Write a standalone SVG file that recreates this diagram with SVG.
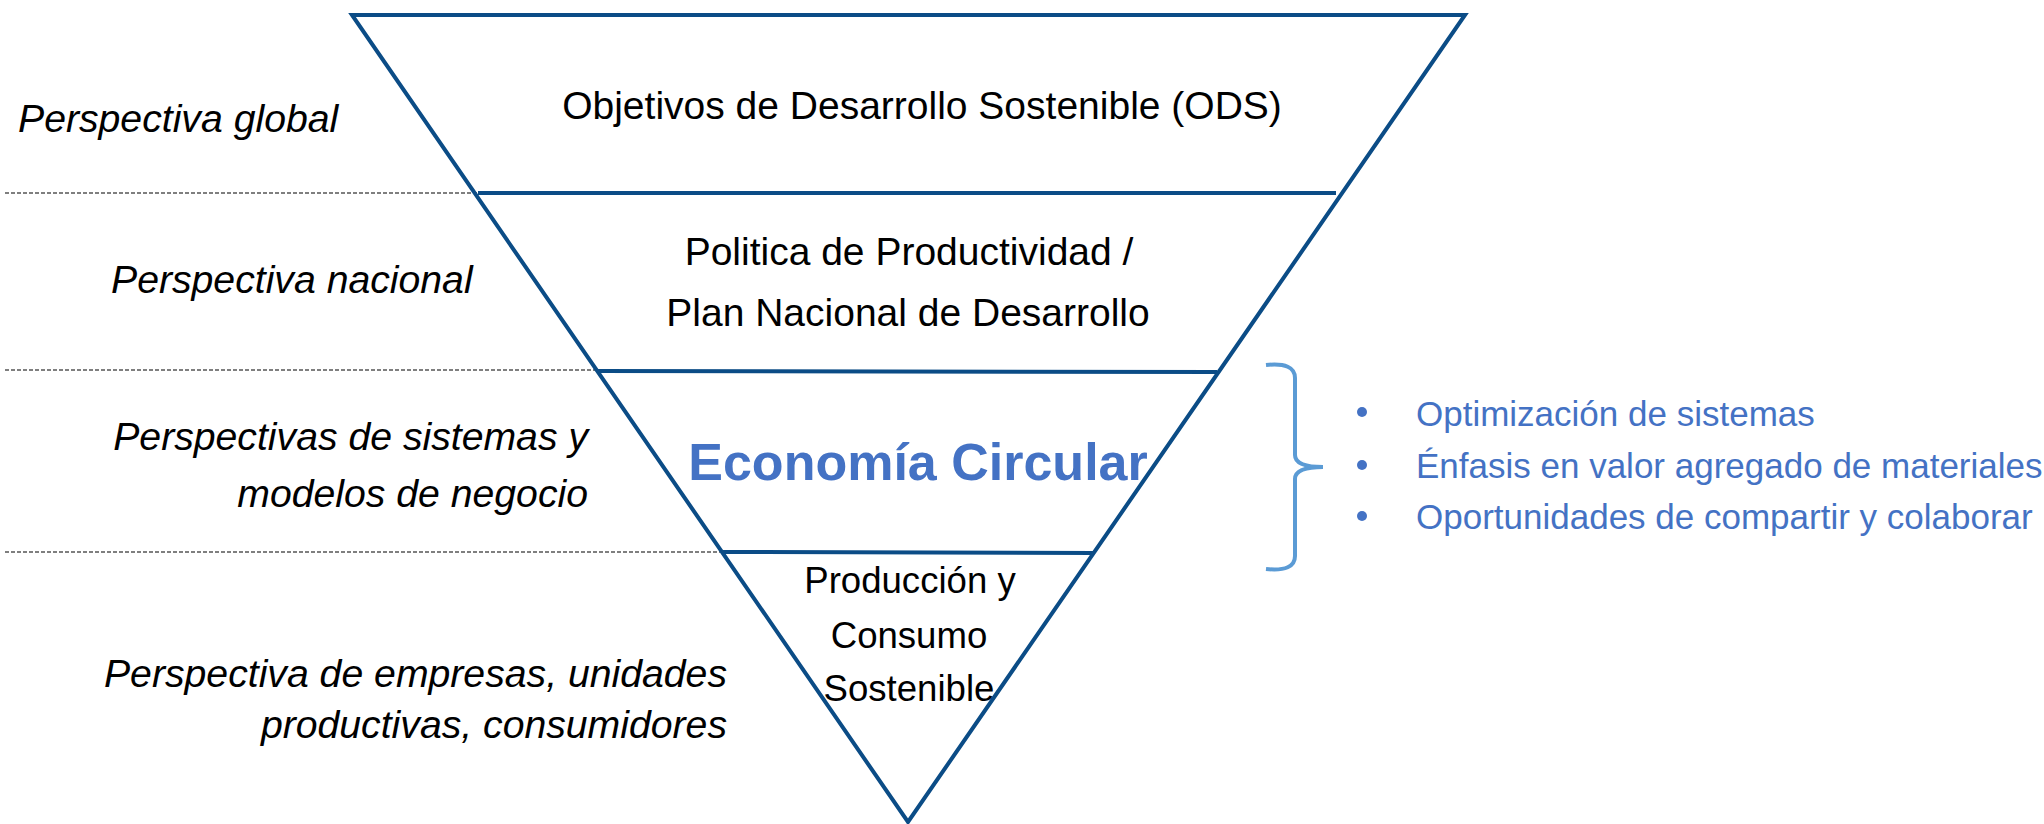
<svg xmlns="http://www.w3.org/2000/svg" width="2044" height="824" viewBox="0 0 2044 824">
<style>
.edge{fill:none;stroke:#0B4C86;stroke-width:4;stroke-linejoin:miter}
.div{stroke:#0B4C86;stroke-width:4}
.dot{stroke:#000;stroke-width:1.2;stroke-dasharray:4 2}
.side{font-family:"Liberation Sans",Arial,sans-serif;font-style:italic;font-size:39.2px;fill:#000}
.lvl{font-family:"Liberation Sans",Arial,sans-serif;font-size:39px;fill:#000;text-anchor:middle}
.sm{font-size:36.6px}
.ec{font-family:"Liberation Sans",Arial,sans-serif;font-size:52px;font-weight:bold;fill:#4472C4;text-anchor:middle}
.bl{font-family:"Liberation Sans",Arial,sans-serif;font-size:35px;fill:#4472C4}
</style>
<rect width="2044" height="824" fill="#fff"/>
<g id="connectors">
<line class="dot" x1="5" y1="193" x2="493" y2="193"/>
<line class="dot" x1="5" y1="370" x2="596" y2="370"/>
<line class="dot" x1="5" y1="552" x2="720" y2="552"/>
</g>
<g id="pyramid">
<polygon class="edge" points="352,15 1465,15 908,822"/>
<line class="div" x1="478" y1="193" x2="1336" y2="193"/>
<line class="div" x1="598" y1="371" x2="1217" y2="372"/>
<line class="div" x1="722" y1="552" x2="1093" y2="553"/>
</g>
<g id="level-ods">
<text class="lvl" x="922" y="119">Objetivos de Desarrollo Sostenible (ODS)</text>
</g>
<g id="level-politica">
<text class="lvl" x="909" y="265">Politica de Productividad /</text>
<text class="lvl" x="908" y="326">Plan Nacional de Desarrollo</text>
</g>
<g id="level-ec">
<text class="ec" x="918" y="480">Economía Circular</text>
</g>
<g id="level-pcs">
<text class="lvl sm" x="910" y="593">Producción y</text>
<text class="lvl sm" x="909" y="648">Consumo</text>
<text class="lvl sm" x="909" y="701">Sostenible</text>
</g>
<g id="labels-left">
<text class="side" x="18" y="132">Perspectiva global</text>
<text class="side" x="111" y="293">Perspectiva nacional</text>
<text class="side" x="588" y="450" text-anchor="end">Perspectivas de sistemas y</text>
<text class="side" x="588" y="507" text-anchor="end">modelos de negocio</text>
<text class="side" x="727" y="687" text-anchor="end">Perspectiva de empresas, unidades</text>
<text class="side" x="727" y="738" text-anchor="end">productivas, consumidores</text>
</g>
<g id="brace">
<path d="M1266,365 Q1295,362 1295,378 L1295,455 Q1295,467 1323,467 Q1295,467 1295,479 L1295,556 Q1295,572 1266,569" fill="none" stroke="#5B9BD5" stroke-width="4"/>
</g>
<g id="bullets">
<circle cx="1362" cy="412" r="5" fill="#4472C4"/>
<circle cx="1362" cy="465" r="5" fill="#4472C4"/>
<circle cx="1362" cy="516" r="5" fill="#4472C4"/>
<text class="bl" x="1416" y="426">Optimización de sistemas</text>
<text class="bl" x="1416" y="478">Énfasis en valor agregado de materiales</text>
<text class="bl" x="1416" y="529">Oportunidades de compartir y colaborar</text>
</g>
</svg>
